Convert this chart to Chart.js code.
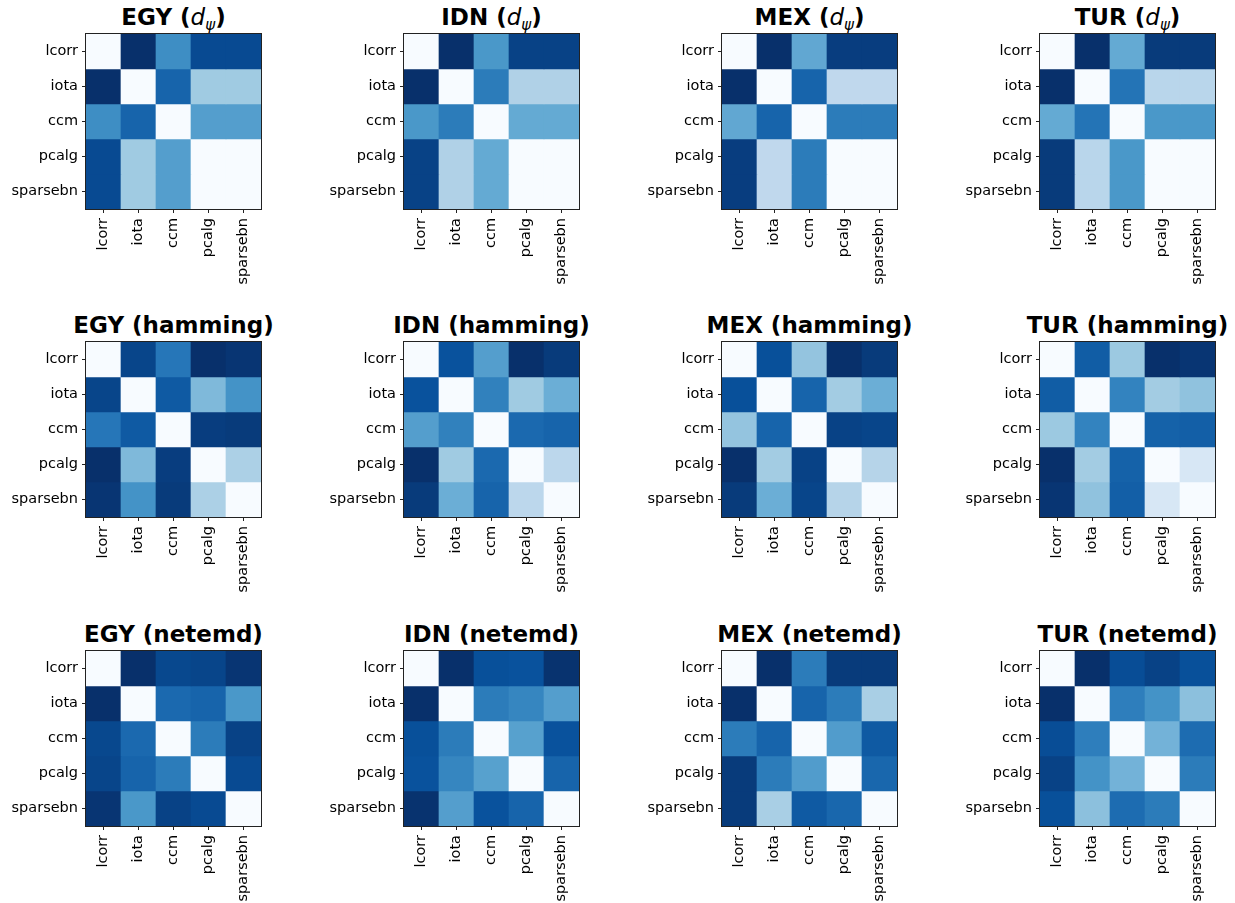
<!DOCTYPE html>
<html>
<head>
<meta charset="utf-8">
<script src="https://cdn.jsdelivr.net/npm/chart.js@4"></script>
<style>
  body { margin: 0; background: #fff; }
  #page { position: relative; width: 1235px; height: 903px; overflow: hidden; font-family: "DejaVu Sans", sans-serif; }
  .panel-title { position: absolute; width: 300px; text-align: center; font-size: 23px; font-weight: bold; line-height: 26px; white-space: nowrap; color: #000; }
  .panel-title i { font-weight: normal; }
  .panel-title sub { font-size: 15px; font-style: italic; font-weight: normal; vertical-align: -5px; line-height: 0; }
  canvas { position: absolute; }
</style>
</head>
<body>
<div id="page"></div>
<script>
const models = ['lcorr', 'iota', 'ccm', 'pcalg', 'sparsebn'];
const countries = ['EGY', 'IDN', 'MEX', 'TUR'];
const metrics = ['dpsi', 'hamming', 'netemd'];

// normalised distance between methods (rows / columns in `models` order)
const egyDpsi = [
  [0, 1.0, 0.64, 0.9, 0.9],
  [1.0, 0, 0.8, 0.37, 0.37],
  [0.64, 0.8, 0, 0.57, 0.57],
  [0.9, 0.37, 0.57, 0, 0],
  [0.9, 0.37, 0.57, 0, 0]
];
const idnDpsi = [
  [0, 1.0, 0.6, 0.93, 0.93],
  [1.0, 0, 0.71, 0.32, 0.32],
  [0.6, 0.71, 0, 0.52, 0.52],
  [0.93, 0.32, 0.52, 0, 0],
  [0.93, 0.32, 0.52, 0, 0]
];
const mexDpsi = [
  [0, 1.0, 0.53, 0.95, 0.95],
  [1.0, 0, 0.8, 0.27, 0.27],
  [0.53, 0.8, 0, 0.71, 0.71],
  [0.95, 0.27, 0.71, 0, 0],
  [0.95, 0.27, 0.71, 0, 0]
];
const turDpsi = [
  [0, 1.0, 0.52, 0.96, 0.96],
  [1.0, 0, 0.74, 0.29, 0.29],
  [0.52, 0.74, 0, 0.6, 0.6],
  [0.96, 0.29, 0.6, 0, 0],
  [0.96, 0.29, 0.6, 0, 0]
];
const egyHamming = [
  [0, 0.92, 0.73, 1.0, 0.98],
  [0.92, 0, 0.84, 0.45, 0.62],
  [0.73, 0.84, 0, 0.95, 0.96],
  [1.0, 0.45, 0.95, 0, 0.33],
  [0.98, 0.62, 0.96, 0.33, 0]
];
const idnHamming = [
  [0, 0.87, 0.57, 1.0, 0.96],
  [0.87, 0, 0.69, 0.37, 0.5],
  [0.57, 0.69, 0, 0.78, 0.8],
  [1.0, 0.37, 0.78, 0, 0.28],
  [0.96, 0.5, 0.8, 0.28, 0]
];
const mexHamming = [
  [0, 0.88, 0.4, 1.0, 0.96],
  [0.88, 0, 0.8, 0.36, 0.5],
  [0.4, 0.8, 0, 0.93, 0.92],
  [1.0, 0.36, 0.93, 0, 0.3],
  [0.96, 0.5, 0.92, 0.3, 0]
];
const turHamming = [
  [0, 0.83, 0.38, 1.0, 0.98],
  [0.83, 0, 0.68, 0.36, 0.41],
  [0.38, 0.68, 0, 0.81, 0.82],
  [1.0, 0.36, 0.81, 0, 0.16],
  [0.98, 0.41, 0.82, 0.16, 0]
];
const egyNetemd = [
  [0, 1.0, 0.91, 0.92, 0.98],
  [1.0, 0, 0.78, 0.8, 0.6],
  [0.91, 0.78, 0, 0.71, 0.93],
  [0.92, 0.8, 0.71, 0, 0.9],
  [0.98, 0.6, 0.93, 0.9, 0]
];
const idnNetemd = [
  [0, 1.0, 0.88, 0.87, 0.99],
  [1.0, 0, 0.71, 0.67, 0.57],
  [0.88, 0.71, 0, 0.56, 0.87],
  [0.87, 0.67, 0.56, 0, 0.8],
  [0.99, 0.57, 0.87, 0.8, 0]
];
const mexNetemd = [
  [0, 1.0, 0.71, 0.96, 0.96],
  [1.0, 0, 0.8, 0.71, 0.34],
  [0.71, 0.8, 0, 0.58, 0.84],
  [0.96, 0.71, 0.58, 0, 0.79],
  [0.96, 0.34, 0.84, 0.79, 0]
];
const turNetemd = [
  [0, 1.0, 0.89, 0.93, 0.88],
  [1.0, 0, 0.7, 0.62, 0.42],
  [0.89, 0.7, 0, 0.48, 0.77],
  [0.93, 0.62, 0.48, 0, 0.71],
  [0.88, 0.42, 0.77, 0.71, 0]
];

const panels = [
  [egyDpsi, idnDpsi, mexDpsi, turDpsi],
  [egyHamming, idnHamming, mexHamming, turHamming],
  [egyNetemd, idnNetemd, mexNetemd, turNetemd]
];

// matplotlib "Blues"
const blues = ['#f7fbff', '#deebf7', '#c6dbef', '#9ecae1', '#6baed6', '#4292c6', '#2171b5', '#08519c', '#08306b'];
function hexToRgb(h) {
  return [1, 3, 5].map(i => parseInt(h.slice(i, i + 2), 16));
}
function bluesColor(v) {
  v = Math.max(0, Math.min(1, v));
  const pos = v * (blues.length - 1);
  const i = Math.min(Math.floor(pos), blues.length - 2);
  const t = pos - i;
  const a = hexToRgb(blues[i]), b = hexToRgb(blues[i + 1]);
  const c = a.map((x, k) => Math.round(x + (b[k] - x) * t));
  return `rgb(${c[0]},${c[1]},${c[2]})`;
}

// draws the black frame all round the plot area
const frame = {
  id: 'frame',
  afterDraw(chart) {
    const { ctx, chartArea: a } = chart;
    ctx.save();
    ctx.strokeStyle = '#222';
    ctx.lineWidth = 1;
    ctx.strokeRect(Math.round(a.left) - 0.5, Math.round(a.top) - 0.5, Math.round(a.width) + 1, Math.round(a.height) + 1);
    ctx.restore();
  }
};

const colLeft = [86, 404, 722, 1040];
const rowTop = [34, 342, 651];
const plotSize = 175;
const yAxisW = 86;
const xAxisH = 79;
const padTop = 2, padRight = 3;

const page = document.getElementById('page');

panels.forEach((row, r) => {
  row.forEach((matrix, c) => {
    const left = colLeft[c], top = rowTop[r];

    const title = document.createElement('div');
    title.className = 'panel-title';
    title.style.left = (left + plotSize / 2 - 150) + 'px';
    title.style.top = (top - 30) + 'px';
    if (metrics[r] === 'dpsi') {
      title.innerHTML = countries[c] + ' (<i>d</i><sub>ψ</sub>)';
    } else {
      title.textContent = countries[c] + ' (' + metrics[r] + ')';
    }
    page.appendChild(title);

    const canvas = document.createElement('canvas');
    canvas.width = yAxisW + plotSize + padRight;
    canvas.height = padTop + plotSize + xAxisH;
    canvas.style.left = (left - yAxisW) + 'px';
    canvas.style.top = (top - padTop) + 'px';
    page.appendChild(canvas);

    // one floating-bar dataset per matrix row, spanning [i-0.5, i+0.5]
    const datasets = models.map((m, i) => ({
      label: m,
      data: models.map(() => [i - 0.5, i + 0.5]),
      backgroundColor: matrix[i].map(bluesColor),
      borderWidth: 0,
      grouped: false,
      barPercentage: 1,
      categoryPercentage: 1
    }));

    new Chart(canvas.getContext('2d'), {
      type: 'bar',
      data: { labels: models, datasets },
      options: {
        responsive: false,
        animation: false,
        layout: { padding: { top: padTop, right: padRight, left: 0, bottom: 0 } },
        plugins: {
          legend: { display: false },
          tooltip: { enabled: false },
          title: { display: false }
        },
        scales: {
          x: {
            type: 'category',
            offset: true,
            grid: { drawOnChartArea: false, drawTicks: true, tickLength: 4, tickColor: '#222', offset: false },
            border: { display: false },
            ticks: {
              color: '#000',
              font: { family: 'DejaVu Sans', size: 14.5 },
              minRotation: 90,
              maxRotation: 90,
              padding: 5,
              autoSkip: false
            },
            afterFit(scale) {
              scale.height = xAxisH;
              scale.paddingLeft = 0;
              scale.paddingRight = 0;
            }
          },
          y: {
            type: 'linear',
            min: -0.5,
            max: 4.5,
            reverse: true,
            grid: { drawOnChartArea: false, drawTicks: true, tickLength: 4, tickColor: '#222' },
            border: { display: false },
            ticks: {
              color: '#000',
              font: { family: 'DejaVu Sans', size: 14.5 },
              padding: 4,
              callback: v => models[v]
            },
            afterBuildTicks(scale) {
              scale.ticks = models.map((m, i) => ({ value: i }));
            },
            afterFit(scale) {
              scale.width = yAxisW;
              scale.paddingTop = 0;
              scale.paddingBottom = 0;
            }
          }
        }
      },
      plugins: [frame]
    });
  });
});
</script>
</body>
</html>
